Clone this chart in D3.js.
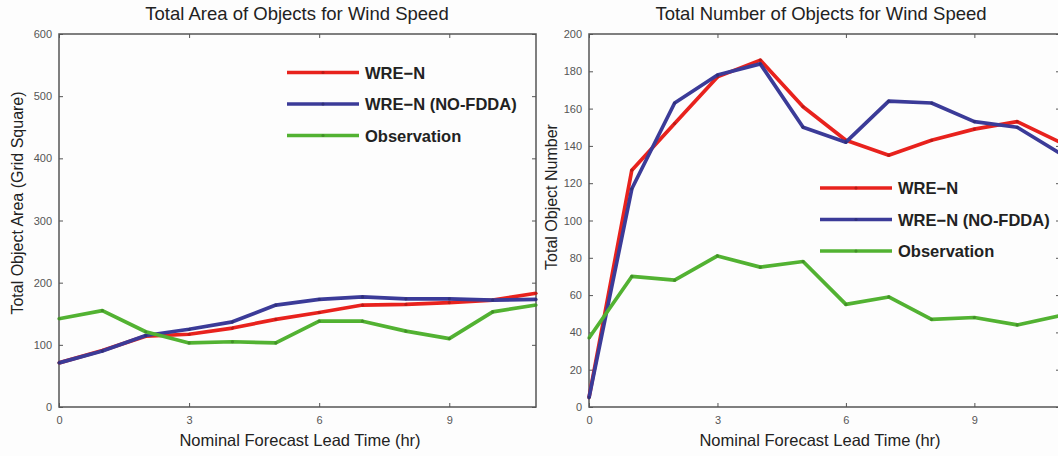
<!DOCTYPE html>
<html>
<head>
<meta charset="utf-8">
<script src="https://cdn.jsdelivr.net/npm/d3@7"></script>
<style>
  body { margin: 0; background: #fdfdfd; }
  svg { display: block; font-family: "Liberation Sans", Arial, sans-serif; }
  .tick text { fill: #555; font-size: 11px; }
  .title { font-size: 18.5px; fill: #222; }
  .axlabel { font-size: 16.5px; fill: #222; }
  .ylab { font-size: 16px; fill: #222; }
  .legend text { font-size: 16.5px; font-weight: bold; fill: #222; }
</style>
</head>
<body>
<svg id="chart" width="1058" height="456"></svg>
<script>
// lead time (hr)
var hours = [0, 1, 2, 3, 4, 5, 6, 7, 8, 9, 10, 11];
var seriesNames = ["WRE\u2212N", "WRE\u2212N (NO-FDDA)", "Observation"];
var colors = ["#e8221d", "#3b3b98", "#52b232"];

// left panel: total area (grid squares)
var areaWren   = [71, 91, 114, 117, 127, 141, 152, 164, 165, 168, 172, 183];
var areaNofdda = [71, 90, 115, 125, 137, 164, 173, 177, 174, 174, 172, 173];
var areaObs    = [142, 155, 121, 103, 105, 103, 138, 138, 122, 110, 153, 164];

// right panel: number of objects
var numWren   = [5, 127, 152, 177, 186, 161, 143, 135, 143, 149, 153, 142];
var numNofdda = [5, 117, 163, 178, 184, 150, 142, 164, 163, 153, 150, 136];
var numObs    = [37, 70, 68, 81, 75, 78, 55, 59, 47, 48, 44, 49];

var xTicks = [0, 3, 6, 9];
var areaTicks = [0, 100, 200, 300, 400, 500, 600];
var numTicks = [0, 20, 40, 60, 80, 100, 120, 140, 160, 180, 200];

var svg = d3.select("#chart");

function panel(opts) {
  var x = d3.scaleLinear().domain([0, 11]).range([opts.left, opts.right]);
  var y = d3.scaleLinear().domain([0, opts.ymax]).range([407, 34]);
  var g = svg.append("g");

  // ticks inside, mirrored on all sides
  g.append("g").attr("transform", "translate(0,407)")
    .call(d3.axisBottom(x).tickValues(xTicks).tickSize(-4).tickPadding(9));
  g.append("g").attr("transform", "translate(0,34)")
    .call(d3.axisTop(x).tickValues(xTicks).tickSize(-4).tickFormat(""));
  g.append("g").attr("transform", "translate(" + opts.left + ",0)")
    .call(d3.axisLeft(y).tickValues(opts.yTicks).tickSize(-4).tickPadding(7));
  g.append("g").attr("transform", "translate(" + opts.right + ",0)")
    .call(d3.axisRight(y).tickValues(opts.yTicks).tickSize(-4).tickFormat(""));
  g.selectAll(".domain").remove();
  g.selectAll(".tick line").attr("stroke", "#555");

  g.append("rect")
    .attr("x", opts.left).attr("y", 34)
    .attr("width", opts.right - opts.left).attr("height", 373)
    .attr("fill", "none").attr("stroke", "#555").attr("stroke-width", 1.5);

  var line = d3.line().x(function(d, i){ return x(hours[i]); }).y(function(d){ return y(d); });

  opts.series.forEach(function(s, k){
    g.append("path")
      .attr("d", line(s))
      .attr("fill", "none")
      .attr("stroke", colors[k])
      .attr("stroke-width", 3.7)
      .attr("stroke-linejoin", "round");
    g.selectAll(null).data(s).enter().append("circle")
      .attr("cx", function(d, i){ return x(hours[i]); })
      .attr("cy", function(d){ return y(d); })
      .attr("r", 1.6)
      .attr("fill", d3.color(colors[k]).darker(0.6));
  });

  g.append("text").attr("class", "title")
    .attr("x", opts.titleX).attr("y", 20)
    .attr("text-anchor", "middle").text(opts.title);
  g.append("text").attr("class", "axlabel")
    .attr("x", opts.xlabX).attr("y", 446)
    .attr("text-anchor", "middle").text("Nominal Forecast Lead Time (hr)");
  g.append("text").attr("class", "ylab")
    .attr("transform", "translate(" + opts.ylabX + "," + opts.ylabY + ") rotate(-90)")
    .attr("text-anchor", "middle").text(opts.ylabel);

  var lg = g.append("g").attr("class", "legend");
  seriesNames.forEach(function(name, k){
    var ly = opts.legY + k * 31.5;
    lg.append("line")
      .attr("x1", opts.legX).attr("x2", opts.legX + 72)
      .attr("y1", ly).attr("y2", ly)
      .attr("stroke", colors[k]).attr("stroke-width", 3.7);
    lg.append("circle").attr("cx", opts.legX + 36).attr("cy", ly).attr("r", 1.6)
      .attr("fill", d3.color(colors[k]).darker(0.6));
    lg.append("text").attr("x", opts.legX + 78).attr("y", ly + 6).text(name);
  });
}

panel({
  left: 59, right: 536, ymax: 600, yTicks: areaTicks,
  series: [areaWren, areaNofdda, areaObs],
  title: "Total Area of Objects for Wind Speed", titleX: 297,
  xlabX: 300,
  ylabel: "Total Object Area (Grid Square)", ylabX: 23, ylabY: 203,
  legX: 287, legY: 72.5
});

panel({
  left: 589, right: 1060, ymax: 200, yTicks: numTicks,
  series: [numWren, numNofdda, numObs],
  title: "Total Number of Objects for Wind Speed", titleX: 821,
  xlabX: 820,
  ylabel: "Total Object Number", ylabX: 557, ylabY: 197,
  legX: 820, legY: 188
});
</script>
</body>
</html>
